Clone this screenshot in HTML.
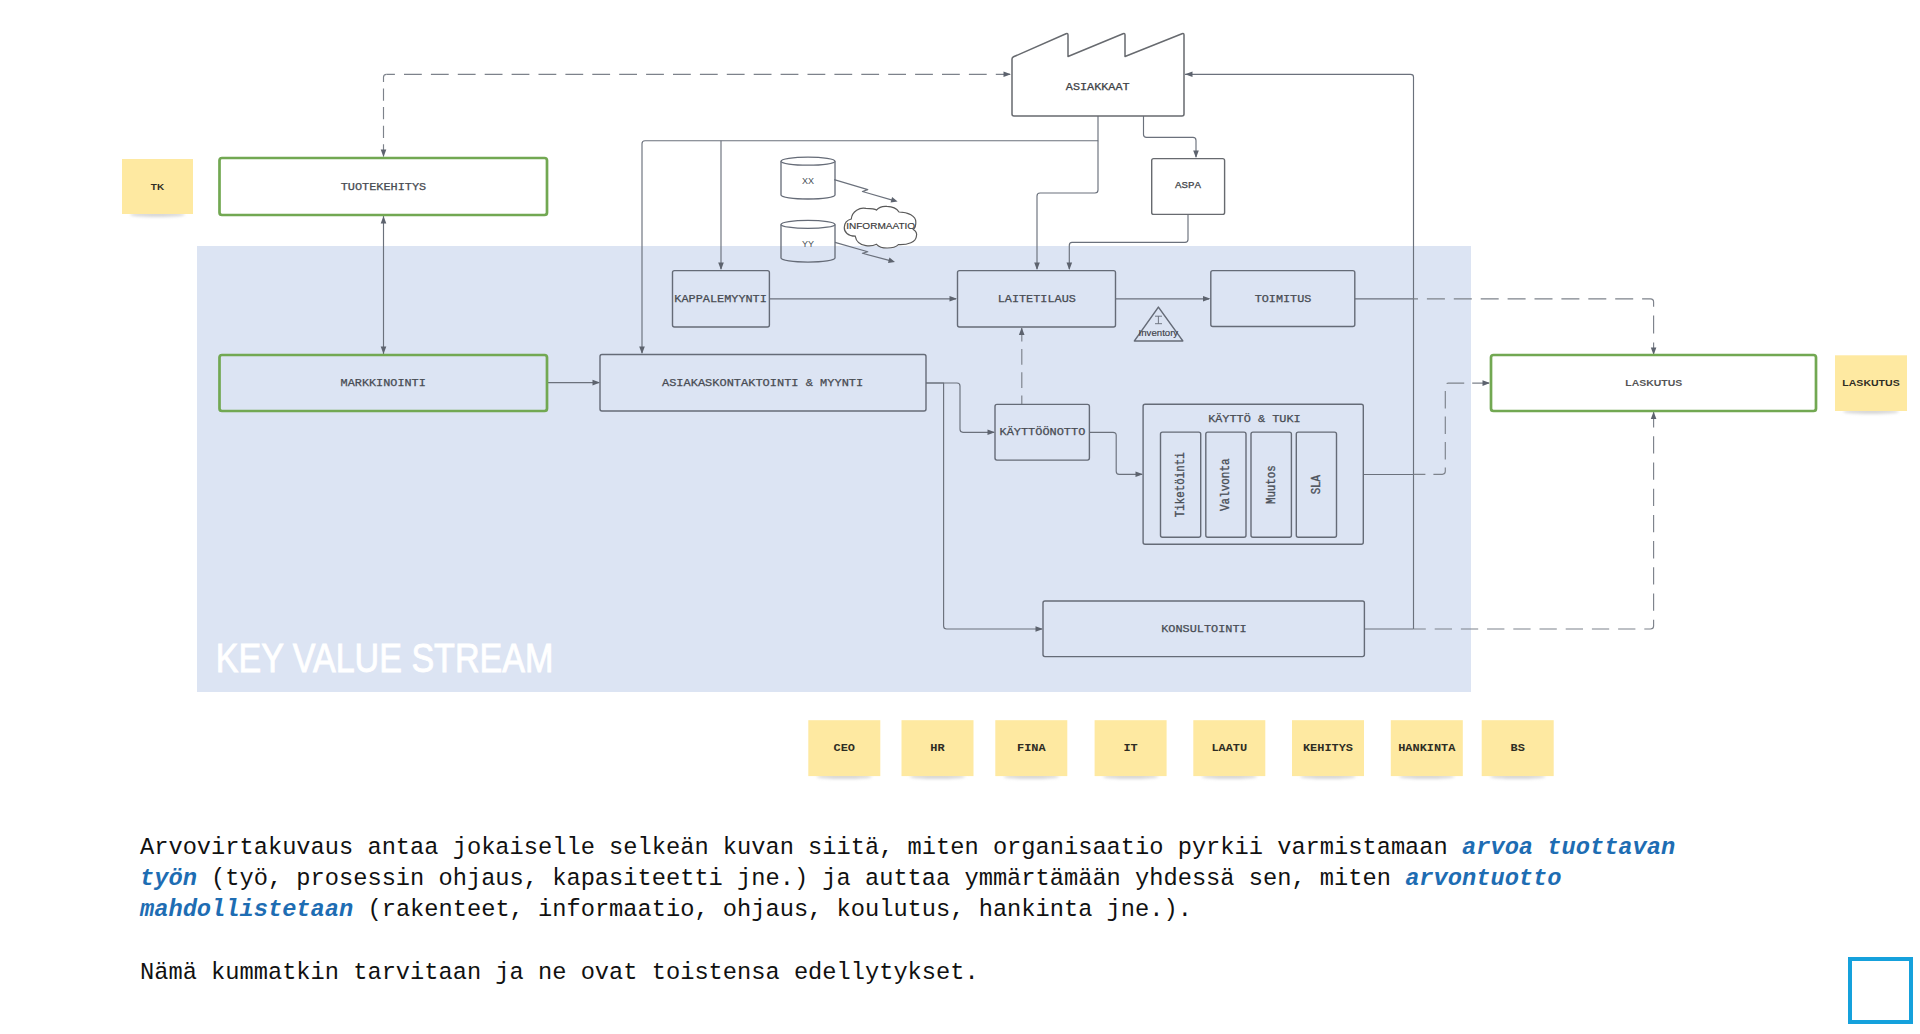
<!DOCTYPE html>
<html><head><meta charset="utf-8">
<style>
html,body{margin:0;padding:0;background:#ffffff;width:1920px;height:1034px;overflow:hidden;position:relative}
svg{position:absolute;left:0;top:0}
.p{position:absolute;left:140px;font-family:"Liberation Mono",monospace;font-size:23.7px;line-height:31.2px;color:#111;white-space:pre;margin:0}
.b{color:#1e6db3;font-weight:bold;font-style:italic}
.sq{position:absolute;left:1848px;top:957px;width:57px;height:59px;border:4px solid #15a1dc}
</style></head><body>
<svg width="1920" height="1034" viewBox="0 0 1920 1034">
<defs><filter id="blur" x="-20%" y="-100%" width="140%" height="300%"><feGaussianBlur stdDeviation="1.5"/></filter></defs>
<rect x="197" y="246" width="1274" height="446" fill="#dce4f3"/>
<text x="215.8" y="672" font-family="Liberation Sans" font-size="40.5" fill="#ffffff" stroke="#ffffff" stroke-width="0.9" textLength="337.5" lengthAdjust="spacingAndGlyphs">KEY VALUE STREAM</text>
<path d="M383.5,157 V77.3 Q383.5,74.3 386.5,74.3" fill="none" stroke="#7d828b" stroke-width="1.15" stroke-linejoin="round" stroke-dasharray="12.2 6.4" stroke-dashoffset="18.1"/>
<path d="M386.5,74.3 H1010" fill="none" stroke="#7d828b" stroke-width="1.15" stroke-linejoin="round" stroke-dasharray="17.8 9.1" stroke-dashoffset="9.4"/>
<polygon points="383.5,157 380.7,149.5 386.3,149.5" fill="#5d636e"/>
<polygon points="1011,74.3 1003.5,71.5 1003.5,77.1" fill="#5d636e"/>
<path d="M1413.5,629 V77 Q1413.5,74.3 1410.5,74.3 H1185" fill="none" stroke="#6b717c" stroke-width="1.15" stroke-linejoin="round"/>
<polygon points="1185,74.3 1192.5,71.5 1192.5,77.1" fill="#5d636e"/>
<path d="M1355,298.8 H1413.5" fill="none" stroke="#6b717c" stroke-width="1.15" stroke-linejoin="round"/>
<path d="M1363,474.5 H1413.5" fill="none" stroke="#6b717c" stroke-width="1.15" stroke-linejoin="round"/>
<path d="M1364,629 H1413.5" fill="none" stroke="#6b717c" stroke-width="1.15" stroke-linejoin="round"/>
<path d="M1098,116 V140.7 H645 Q642,140.7 642,143.7 V353" fill="none" stroke="#6b717c" stroke-width="1.15" stroke-linejoin="round"/>
<polygon points="642,354 639.2,346.5 644.8,346.5" fill="#5d636e"/>
<path d="M721,140.7 V269" fill="none" stroke="#6b717c" stroke-width="1.15" stroke-linejoin="round"/>
<polygon points="721,270 718.2,262.5 723.8,262.5" fill="#5d636e"/>
<path d="M1098,140.7 V190 Q1098,193 1095,193 H1040 Q1037,193 1037,196 V269" fill="none" stroke="#6b717c" stroke-width="1.15" stroke-linejoin="round"/>
<polygon points="1037,270 1034.2,262.5 1039.8,262.5" fill="#5d636e"/>
<path d="M1143.5,116 V134.5 Q1143.5,137.4 1146.5,137.4 H1193 Q1196,137.4 1196,140.4 V157" fill="none" stroke="#6b717c" stroke-width="1.15" stroke-linejoin="round"/>
<polygon points="1196,158 1193.2,150.5 1198.8,150.5" fill="#5d636e"/>
<path d="M1188,214.5 V239.5 Q1188,242.4 1185,242.4 H1072 Q1069.3,242.4 1069.3,245.4 V269" fill="none" stroke="#6b717c" stroke-width="1.15" stroke-linejoin="round"/>
<polygon points="1069.3,270 1066.5,262.5 1072.1,262.5" fill="#5d636e"/>
<path d="M769,298.8 H956" fill="none" stroke="#6b717c" stroke-width="1.15" stroke-linejoin="round"/>
<polygon points="957,298.8 949.5,296.0 949.5,301.6" fill="#5d636e"/>
<path d="M1115.5,298.8 H1209" fill="none" stroke="#6b717c" stroke-width="1.15" stroke-linejoin="round"/>
<polygon points="1210.5,298.8 1203.0,296.0 1203.0,301.6" fill="#5d636e"/>
<path d="M1413.5,298.9 H1650.5 Q1653.6,298.9 1653.6,302 V354" fill="none" stroke="#7d828b" stroke-width="1.15" stroke-linejoin="round" stroke-dasharray="18 8.9" stroke-dashoffset="13.5"/>
<polygon points="1653.6,355 1650.8,347.5 1656.3999999999999,347.5" fill="#5d636e"/>
<path d="M383.5,215 V354" fill="none" stroke="#6b717c" stroke-width="1.15" stroke-linejoin="round"/>
<polygon points="383.5,216 380.7,223.5 386.3,223.5" fill="#5d636e"/>
<polygon points="383.5,354 380.7,346.5 386.3,346.5" fill="#5d636e"/>
<path d="M547,382.6 H599" fill="none" stroke="#6b717c" stroke-width="1.15" stroke-linejoin="round"/>
<polygon points="600,382.6 592.5,379.8 592.5,385.40000000000003" fill="#5d636e"/>
<path d="M926,383 H957 Q960,383 960,386 V429.3 Q960,432.3 963,432.3 H994" fill="none" stroke="#6b717c" stroke-width="1.15" stroke-linejoin="round"/>
<polygon points="995,432.3 987.5,429.5 987.5,435.1" fill="#5d636e"/>
<path d="M926,383 H943.6 V626 Q943.6,629 946.6,629 H1042" fill="none" stroke="#6b717c" stroke-width="1.15" stroke-linejoin="round"/>
<polygon points="1043,629 1035.5,626.2 1035.5,631.8" fill="#5d636e"/>
<path d="M1021.8,404.1 V328" fill="none" stroke="#7d828b" stroke-width="1.15" stroke-linejoin="round" stroke-dasharray="15.7 7.6" stroke-dashoffset="7.2"/>
<polygon points="1021.7,327.5 1018.9000000000001,335.0 1024.5,335.0" fill="#5d636e"/>
<path d="M1089.4,432.3 H1113 Q1116.2,432.3 1116.2,435.3 V471.2 Q1116.2,474.3 1119.2,474.3 H1142" fill="none" stroke="#6b717c" stroke-width="1.15" stroke-linejoin="round"/>
<polygon points="1143,474.3 1135.5,471.5 1135.5,477.1" fill="#5d636e"/>
<path d="M1413.5,474.3 H1442.3 Q1445.3,474.3 1445.3,471.3 V386.1 Q1445.3,383.1 1448.3,383.1 H1489" fill="none" stroke="#7d828b" stroke-width="1.15" stroke-linejoin="round" stroke-dasharray="17.5 8" stroke-dashoffset="5.6"/>
<polygon points="1490,383.1 1482.5,380.3 1482.5,385.90000000000003" fill="#5d636e"/>
<path d="M1413.5,629 H1650.5 Q1653.6,629 1653.6,626 V412" fill="none" stroke="#7d828b" stroke-width="1.15" stroke-linejoin="round" stroke-dasharray="17.3 8.9" stroke-dashoffset="5"/>
<polygon points="1653.6,411.5 1650.8,419.0 1656.3999999999999,419.0" fill="#5d636e"/>
<path d="M834.2,179.6 L867.8,189.6 L862.4,191.5 L894,200.6" fill="none" stroke="#6b717c" stroke-width="1.15" stroke-linejoin="round"/>
<polygon points="897.60,201.60 890.58,202.50 892.12,197.12" fill="#5d636e"/>
<rect x="219.5" y="158" width="327.5" height="57" rx="2.5" fill="#ffffff" stroke="#72a852" stroke-width="2.7"/>
<text x="383.5" y="189.60" font-family="Liberation Mono" font-size="10" font-weight="normal" fill="#484c53" stroke="#484c53" stroke-width="0.25" text-anchor="middle" textLength="85.5" lengthAdjust="spacingAndGlyphs">TUOTEKEHITYS</text>
<rect x="219.5" y="355" width="327.5" height="56" rx="2.5" fill="none" stroke="#72a852" stroke-width="2.7"/>
<text x="383.2" y="385.70" font-family="Liberation Mono" font-size="10" font-weight="normal" fill="#484c53" stroke="#484c53" stroke-width="0.25" text-anchor="middle" textLength="85.2" lengthAdjust="spacingAndGlyphs">MARKKINOINTI</text>
<rect x="1491" y="355" width="325" height="56" rx="2.5" fill="#ffffff" stroke="#72a852" stroke-width="2.7"/>
<text x="1653.8" y="385.89" font-family="Liberation Sans" font-size="9.4" font-weight="bold" fill="#555555" stroke="#555555" stroke-width="0" text-anchor="middle" textLength="57" lengthAdjust="spacingAndGlyphs">LASKUTUS</text>
<rect x="600" y="354.5" width="326" height="56.5" rx="2" fill="none" stroke="#656b77" stroke-width="1.4"/>
<text x="762.6" y="385.90" font-family="Liberation Mono" font-size="10" font-weight="normal" fill="#484c53" stroke="#484c53" stroke-width="0.25" text-anchor="middle" textLength="201.2" lengthAdjust="spacingAndGlyphs">ASIAKASKONTAKTOINTI &amp; MYYNTI</text>
<rect x="672.5" y="270.6" width="96.89999999999998" height="56.39999999999998" rx="2" fill="none" stroke="#656b77" stroke-width="1.4"/>
<text x="720.6" y="301.90" font-family="Liberation Mono" font-size="10" font-weight="normal" fill="#484c53" stroke="#484c53" stroke-width="0.25" text-anchor="middle" textLength="92.5" lengthAdjust="spacingAndGlyphs">KAPPALEMYYNTI</text>
<rect x="957.5" y="270.6" width="158.0" height="56.39999999999998" rx="2" fill="none" stroke="#656b77" stroke-width="1.4"/>
<text x="1036.8" y="301.80" font-family="Liberation Mono" font-size="10" font-weight="normal" fill="#484c53" stroke="#484c53" stroke-width="0.25" text-anchor="middle" textLength="78.2" lengthAdjust="spacingAndGlyphs">LAITETILAUS</text>
<rect x="1210.8" y="270.6" width="144.0" height="55.89999999999998" rx="2" fill="none" stroke="#656b77" stroke-width="1.4"/>
<text x="1283" y="301.80" font-family="Liberation Mono" font-size="10" font-weight="normal" fill="#484c53" stroke="#484c53" stroke-width="0.25" text-anchor="middle" textLength="56.7" lengthAdjust="spacingAndGlyphs">TOIMITUS</text>
<rect x="995" y="404.4" width="94.40000000000009" height="55.700000000000045" rx="2" fill="none" stroke="#656b77" stroke-width="1.4"/>
<text x="1042.4" y="435.10" font-family="Liberation Mono" font-size="10" font-weight="normal" fill="#484c53" stroke="#484c53" stroke-width="0.25" text-anchor="middle" textLength="85.8" lengthAdjust="spacingAndGlyphs">KÄYTTÖÖNOTTO</text>
<rect x="1143.1" y="404.3" width="220.20000000000005" height="139.99999999999994" rx="2" fill="none" stroke="#656b77" stroke-width="1.4"/>
<text x="1254.4" y="421.70" font-family="Liberation Mono" font-size="10" font-weight="normal" fill="#484c53" stroke="#484c53" stroke-width="0.25" text-anchor="middle" textLength="92.5" lengthAdjust="spacingAndGlyphs">KÄYTTÖ &amp; TUKI</text>
<rect x="1160.5" y="432.1" width="40.200000000000045" height="105.19999999999993" rx="2" fill="none" stroke="#656b77" stroke-width="1.4"/>
<text x="0" y="0" transform="translate(1180.6,484.7) rotate(-90)" font-family="Liberation Mono" font-size="13" fill="#4a4f58" stroke="#4a4f58" stroke-width="0.35" text-anchor="middle" dominant-baseline="central" textLength="65" lengthAdjust="spacingAndGlyphs">Tiketöinti</text>
<rect x="1205.8" y="432.1" width="40.200000000000045" height="105.19999999999993" rx="2" fill="none" stroke="#656b77" stroke-width="1.4"/>
<text x="0" y="0" transform="translate(1225.9,484.7) rotate(-90)" font-family="Liberation Mono" font-size="13" fill="#4a4f58" stroke="#4a4f58" stroke-width="0.35" text-anchor="middle" dominant-baseline="central" textLength="52.6" lengthAdjust="spacingAndGlyphs">Valvonta</text>
<rect x="1251" y="432.1" width="40.40000000000009" height="105.19999999999993" rx="2" fill="none" stroke="#656b77" stroke-width="1.4"/>
<text x="0" y="0" transform="translate(1271.2,484.7) rotate(-90)" font-family="Liberation Mono" font-size="13" fill="#4a4f58" stroke="#4a4f58" stroke-width="0.35" text-anchor="middle" dominant-baseline="central" textLength="38.7" lengthAdjust="spacingAndGlyphs">Muutos</text>
<rect x="1296.3" y="432.1" width="40.200000000000045" height="105.19999999999993" rx="2" fill="none" stroke="#656b77" stroke-width="1.4"/>
<text x="0" y="0" transform="translate(1316.4,484.7) rotate(-90)" font-family="Liberation Mono" font-size="13" fill="#4a4f58" stroke="#4a4f58" stroke-width="0.35" text-anchor="middle" dominant-baseline="central" textLength="19.3" lengthAdjust="spacingAndGlyphs">SLA</text>
<rect x="1043" y="601" width="321.4000000000001" height="55.60000000000002" rx="2" fill="none" stroke="#656b77" stroke-width="1.4"/>
<text x="1204" y="632.30" font-family="Liberation Mono" font-size="10" font-weight="normal" fill="#484c53" stroke="#484c53" stroke-width="0.25" text-anchor="middle" textLength="85.5" lengthAdjust="spacingAndGlyphs">KONSULTOINTI</text>
<rect x="1151.7" y="158.6" width="72.89999999999986" height="55.80000000000001" rx="2" fill="#ffffff" stroke="#676a6f" stroke-width="1.4"/>
<text x="1188" y="188.44" font-family="Liberation Mono" font-size="9.5" font-weight="normal" fill="#44474c" stroke="#44474c" stroke-width="0.25" text-anchor="middle" textLength="26" lengthAdjust="spacingAndGlyphs">ASPA</text>
<path d="M1014,116 Q1012,116 1012,114 V59 Q1012,57.5 1013.5,56.8 L1066,33.8 Q1068,33 1068,35 V56.5 L1123,33.8 Q1125,33 1125,35 V56.5 L1182,33.8 Q1184,33 1184,35 V114 Q1184,116 1182,116 Z" fill="#ffffff" stroke="#676a6f" stroke-width="1.5" stroke-linejoin="round"/>
<text x="1097.7" y="89.90" font-family="Liberation Mono" font-size="10" font-weight="normal" fill="#404348" stroke="#404348" stroke-width="0.25" text-anchor="middle" textLength="63.8" lengthAdjust="spacingAndGlyphs">ASIAKKAAT</text>
<path d="M781,161.2 V195 A27,4 0 0 0 835,195 V161.2" fill="none" stroke="#656b77" stroke-width="1.3"/>
<ellipse cx="808" cy="161.2" rx="27" ry="4" fill="#ffffff" stroke="#656b77" stroke-width="1.3"/>
<text x="808" y="180.6" font-family="Liberation Sans" font-size="9" font-weight="normal" fill="#4a4f58" text-anchor="middle" dominant-baseline="central" textLength="12" lengthAdjust="spacingAndGlyphs" >XX</text>
<path d="M781,224.4 V258.1 A27,4 0 0 0 835,258.1 V224.4" fill="none" stroke="#656b77" stroke-width="1.3"/>
<ellipse cx="808" cy="224.4" rx="27" ry="4" fill="#ffffff" stroke="#656b77" stroke-width="1.3"/>
<text x="808" y="243.75" font-family="Liberation Sans" font-size="9" font-weight="normal" fill="#4a4f58" text-anchor="middle" dominant-baseline="central" textLength="12" lengthAdjust="spacingAndGlyphs" >YY</text>
<path d="M835,242.4 L867.8,251.8 L862.4,253.3 L891,260.9" fill="none" stroke="#6b717c" stroke-width="1.15" stroke-linejoin="round"/>
<polygon points="895.00,261.90 888.00,262.95 889.43,257.53" fill="#5d636e"/>
<path d="M851.3,219 C852,211 860,207 866,208.4 C871,208.5 875,209 876.5,210.1 C879,207 883,206 887,206.4 C893,206.5 897,209 899,212 C908,212 916,216 915.8,222.1 C916,226 915,228 913.3,229.4 C916,231 917,234 916.4,236.2 C916,242 908,245 898.4,244.6 C896,247 892,248 887.2,248 C883,248 879,247 876.5,244.3 C873,246 868,246 865.9,245.7 C860,245 856,241 855.2,236.2 C848,236 844,232 844.3,227.2 C844.5,223 847,220 851.3,219 Z" fill="#ffffff" stroke="#5a5a5a" stroke-width="1.2"/>
<text x="880.7" y="228.73" font-family="Liberation Sans" font-size="8.5" font-weight="normal" fill="#3a3a3a" stroke="#3a3a3a" stroke-width="0.15" text-anchor="middle" textLength="69" lengthAdjust="spacingAndGlyphs">INFORMAATIO</text>
<path d="M1158.4,307.1 L1182.8,340.9 L1134.4,340.9 Z" fill="none" stroke="#656b77" stroke-width="1.5" stroke-linejoin="round"/>
<path d="M1155,316.2 H1162 M1158.4,316.2 V323.7 M1155,323.7 H1162" stroke="#656b77" stroke-width="0.9" fill="none"/>
<text x="1158.4" y="335.91" font-family="Liberation Sans" font-size="9" font-weight="normal" fill="#3d4048" stroke="#3d4048" stroke-width="0.15" text-anchor="middle" textLength="39.6" lengthAdjust="spacingAndGlyphs">Inventory</text>
<ellipse cx="157.5" cy="214.5" rx="27.5" ry="2.5" fill="#d6d6d6" filter="url(#blur)"/>
<rect x="122" y="159" width="71" height="55" fill="#fee9a1"/>
<text x="157.5" y="189.78" font-family="Liberation Sans" font-size="9.5" font-weight="bold" fill="#2e2d24" stroke="#2e2d24" stroke-width="0" text-anchor="middle" textLength="13.3" lengthAdjust="spacingAndGlyphs">TK</text>
<ellipse cx="1871.0" cy="411.5" rx="28.0" ry="2.5" fill="#d6d6d6" filter="url(#blur)"/>
<rect x="1835" y="355.3" width="72" height="55.69999999999999" fill="#fee9a1"/>
<text x="1871.0" y="386.43" font-family="Liberation Sans" font-size="9.5" font-weight="bold" fill="#2e2d24" stroke="#2e2d24" stroke-width="0" text-anchor="middle" textLength="57.4" lengthAdjust="spacingAndGlyphs">LASKUTUS</text>
<ellipse cx="844.3" cy="776.6" rx="28.0" ry="2.5" fill="#d6d6d6" filter="url(#blur)"/>
<rect x="808.3" y="720.2" width="72.0" height="55.89999999999998" fill="#fee9a1"/>
<text x="844.3" y="751.45" font-family="Liberation Mono" font-size="10" font-weight="bold" fill="#2e2d24" stroke="#2e2d24" stroke-width="0" text-anchor="middle" textLength="21.450000000000003" lengthAdjust="spacingAndGlyphs">CEO</text>
<ellipse cx="937.5" cy="776.6" rx="28.0" ry="2.5" fill="#d6d6d6" filter="url(#blur)"/>
<rect x="901.5" y="720.2" width="72.0" height="55.89999999999998" fill="#fee9a1"/>
<text x="937.5" y="751.45" font-family="Liberation Mono" font-size="10" font-weight="bold" fill="#2e2d24" stroke="#2e2d24" stroke-width="0" text-anchor="middle" textLength="14.3" lengthAdjust="spacingAndGlyphs">HR</text>
<ellipse cx="1031.3" cy="776.6" rx="28.0" ry="2.5" fill="#d6d6d6" filter="url(#blur)"/>
<rect x="995.3" y="720.2" width="72.0" height="55.89999999999998" fill="#fee9a1"/>
<text x="1031.3" y="751.45" font-family="Liberation Mono" font-size="10" font-weight="bold" fill="#2e2d24" stroke="#2e2d24" stroke-width="0" text-anchor="middle" textLength="28.6" lengthAdjust="spacingAndGlyphs">FINA</text>
<ellipse cx="1130.6" cy="776.6" rx="28.0" ry="2.5" fill="#d6d6d6" filter="url(#blur)"/>
<rect x="1094.6" y="720.2" width="72.0" height="55.89999999999998" fill="#fee9a1"/>
<text x="1130.6" y="751.45" font-family="Liberation Mono" font-size="10" font-weight="bold" fill="#2e2d24" stroke="#2e2d24" stroke-width="0" text-anchor="middle" textLength="14.3" lengthAdjust="spacingAndGlyphs">IT</text>
<ellipse cx="1229.3" cy="776.6" rx="28.0" ry="2.5" fill="#d6d6d6" filter="url(#blur)"/>
<rect x="1193.3" y="720.2" width="72.0" height="55.89999999999998" fill="#fee9a1"/>
<text x="1229.3" y="751.45" font-family="Liberation Mono" font-size="10" font-weight="bold" fill="#2e2d24" stroke="#2e2d24" stroke-width="0" text-anchor="middle" textLength="35.75" lengthAdjust="spacingAndGlyphs">LAATU</text>
<ellipse cx="1328.0" cy="776.6" rx="28.0" ry="2.5" fill="#d6d6d6" filter="url(#blur)"/>
<rect x="1292" y="720.2" width="72" height="55.89999999999998" fill="#fee9a1"/>
<text x="1328.0" y="751.45" font-family="Liberation Mono" font-size="10" font-weight="bold" fill="#2e2d24" stroke="#2e2d24" stroke-width="0" text-anchor="middle" textLength="50.050000000000004" lengthAdjust="spacingAndGlyphs">KEHITYS</text>
<ellipse cx="1426.8" cy="776.6" rx="28.0" ry="2.5" fill="#d6d6d6" filter="url(#blur)"/>
<rect x="1390.8" y="720.2" width="72.0" height="55.89999999999998" fill="#fee9a1"/>
<text x="1426.8" y="751.45" font-family="Liberation Mono" font-size="10" font-weight="bold" fill="#2e2d24" stroke="#2e2d24" stroke-width="0" text-anchor="middle" textLength="57.2" lengthAdjust="spacingAndGlyphs">HANKINTA</text>
<ellipse cx="1517.7" cy="776.6" rx="28.0" ry="2.5" fill="#d6d6d6" filter="url(#blur)"/>
<rect x="1481.7" y="720.2" width="72.0" height="55.89999999999998" fill="#fee9a1"/>
<text x="1517.7" y="751.45" font-family="Liberation Mono" font-size="10" font-weight="bold" fill="#2e2d24" stroke="#2e2d24" stroke-width="0" text-anchor="middle" textLength="14.3" lengthAdjust="spacingAndGlyphs">BS</text>
</svg>
<div class="p" style="top:832px">Arvovirtakuvaus antaa jokaiselle selkeän kuvan siitä, miten organisaatio pyrkii varmistamaan <span class="b">arvoa tuottavan</span>
<span class="b">työn</span> (työ, prosessin ohjaus, kapasiteetti jne.) ja auttaa ymmärtämään yhdessä sen, miten <span class="b">arvontuotto</span>
<span class="b">mahdollistetaan</span> (rakenteet, informaatio, ohjaus, koulutus, hankinta jne.).

Nämä kummatkin tarvitaan ja ne ovat toistensa edellytykset.</div>
<div class="sq"></div>
</body></html>
